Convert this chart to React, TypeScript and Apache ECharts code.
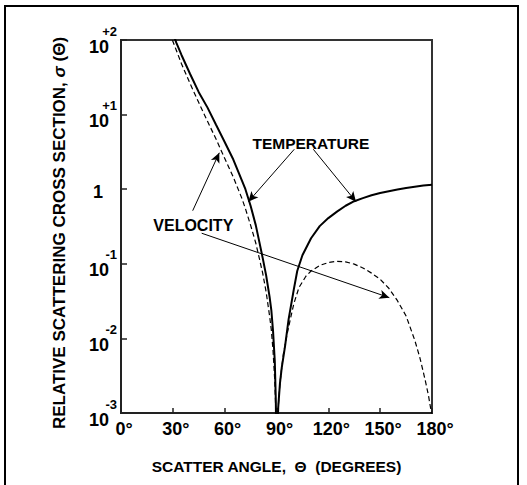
import React, { useEffect, useRef } from "react";
import * as echarts from "echarts";

// Scatter angle (degrees) and relative cross sections
const tempAngles = [30, 32, 35, 40, 45, 50, 55, 60, 65, 70, 72, 75, 78, 80, 82, 84, 86, 87, 88, 89, 89.6, 90,
  91, 92, 93, 95, 97, 100, 102, 105, 110, 115, 120, 125, 130, 135, 140, 145, 150, 155, 160, 165, 170, 175, 180];
const tempValues = [125, 92, 63, 35, 20, 12.5, 7.3, 4.3, 2.5, 1.3, 1.0, 0.6, 0.33, 0.2, 0.12, 0.07, 0.036, 0.024, 0.0125, 0.005, 0.0015, 0.0002,
  0.0012, 0.0025, 0.004, 0.008, 0.018, 0.045, 0.08, 0.13, 0.22, 0.32, 0.41, 0.5, 0.6, 0.69, 0.76, 0.83, 0.89, 0.94, 0.99, 1.04, 1.08, 1.12, 1.15];

const velAngles = [28, 30, 32, 35, 40, 45, 50, 55, 60, 65, 70, 72, 75, 78, 80, 82, 84, 86, 87, 88, 89, 89.5, 90,
  90.5, 91, 92, 93, 94, 96, 98, 100, 103, 107, 110, 115, 120, 125, 130, 135, 140, 145, 150, 155, 160, 165, 170, 173, 176, 178, 180];
const velValues = [125, 96, 73, 48, 26, 14.5, 8.2, 4.7, 2.6, 1.45, 0.75, 0.55, 0.33, 0.19, 0.12, 0.075, 0.042, 0.02, 0.013, 0.0068, 0.0027, 0.0012, 0.0002,
  0.0004, 0.0012, 0.0025, 0.004, 0.0062, 0.011, 0.018, 0.029, 0.048, 0.068, 0.08, 0.095, 0.104, 0.108, 0.106, 0.099, 0.088, 0.075, 0.062, 0.047, 0.032, 0.02, 0.0095, 0.0055, 0.0028, 0.0017, 0.0009];

const xTickValues = [0, 30, 60, 90, 120, 150, 180];

// Annotations (data coordinates: angle, cross section)
const tempLabel = { name: "TEMPERATURE", at: [109.9, 4.07] };
const velLabel = { name: "VELOCITY", at: [41.85, 0.331] };
const tempArrows = [
  [[100.3, 3.43], [73.7, 0.68]],
  [[111.3, 3.43], [136, 0.68]],
];
const velArrows = [
  [[41.5, 0.515], [56.9, 3.08]],
  [[46.7, 0.257], [155.3, 0.0352]],
];

const font = "'Liberation Sans', Arial, sans-serif";

export default function App() {
  const ref = useRef<HTMLDivElement>(null);
  useEffect(() => {
    const chart = echarts.init(ref.current!, null, { renderer: "svg" });
    const tempData = tempAngles.map((a, i) => [a, tempValues[i]]);
    const velData = velAngles.map((a, i) => [a, velValues[i]]);
    const arrowStyle = {
      silent: true,
      symbol: ["none", "arrow"],
      symbolSize: [7, 10],
      lineStyle: { color: "#000", width: 1, type: "solid" },
      label: { show: false },
      emphasis: { disabled: true },
    };
    const labelPoint = (l: { name: string; at: number[] }, size: number) => ({
      silent: true,
      symbol: "rect",
      symbolSize: 1,
      itemStyle: { color: "rgba(0,0,0,0)" },
      label: {
        show: true,
        position: "inside",
        formatter: "{b}",
        fontFamily: font,
        fontWeight: "bold",
        fontSize: size,
        color: "#000",
      },
      data: [{ name: l.name, coord: l.at }],
    });
    chart.setOption({
      animation: false,
      backgroundColor: "#fff",
      grid: {
        left: 121,
        top: 40,
        right: 95,
        bottom: 72,
        show: true,
        borderColor: "#333",
        borderWidth: 2,
        backgroundColor: "rgba(0,0,0,0)",
      },
      xAxis: {
        type: "value",
        min: 0,
        max: 180,
        interval: 30,
        axisLine: { show: true, lineStyle: { color: "#222", width: 2 } },
        axisTick: { show: true, inside: true, length: 5, lineStyle: { color: "#222", width: 1.5 } },
        splitLine: { show: false },
        axisLabel: {
          formatter: (v: number) => (xTickValues.includes(v) ? v + "°" : ""),
          fontFamily: font,
          fontWeight: "bold",
          fontSize: 18,
          color: "#000",
          margin: 7,
          padding: [0, 0, 0, 6],
        },
        name: "SCATTER ANGLE,  Θ  (DEGREES)",
        nameLocation: "middle",
        nameGap: 45,
        nameTextStyle: { fontFamily: font, fontWeight: "bold", fontSize: 15.5, color: "#000" },
      },
      yAxis: {
        type: "log",
        logBase: 10,
        min: 0.001,
        max: 100,
        axisLine: { show: true, lineStyle: { color: "#222", width: 2 } },
        axisTick: { show: true, inside: true, length: 6, lineStyle: { color: "#222", width: 1.5 } },
        splitLine: { show: false },
        minorTick: { show: false },
        axisLabel: {
          showMinLabel: true,
          showMaxLabel: true,
          margin: 4,
          color: "#000",
          formatter: (v: number) => {
            const e = Math.round(Math.log10(v));
            if (e === 0) return "{one|1}";
            const sup = e > 0 ? "+" + e : String(e);
            return "{sup|" + sup + "}\n{base|10}";
          },
          rich: {
            sup: { fontFamily: font, fontWeight: "bold", fontSize: 13, lineHeight: 13, color: "#000" },
            base: { fontFamily: font, fontWeight: "bold", fontSize: 18, lineHeight: 18, color: "#000", padding: [0, 8, 0, 0] },
            one: { fontFamily: font, fontWeight: "bold", fontSize: 18, lineHeight: 18, color: "#000", padding: [6, 14, 0, 0] },
          },
        },
      },
      series: [
        {
          type: "line",
          name: "Temperature",
          data: tempData,
          showSymbol: false,
          clip: true,
          lineStyle: { color: "#000", width: 2 },
          markLine: { ...arrowStyle, data: tempArrows.map(([a, b]) => [{ coord: a }, { coord: b }]) },
          markPoint: labelPoint(tempLabel, 15.5),
        },
        {
          type: "line",
          name: "Velocity",
          data: velData,
          showSymbol: false,
          clip: true,
          lineStyle: { color: "#000", width: 1.2, type: [5, 3] },
          markLine: { ...arrowStyle, data: velArrows.map(([a, b]) => [{ coord: a }, { coord: b }]) },
          markPoint: labelPoint(velLabel, 16),
        },
      ],
      graphic: [
        {
          type: "rect",
          silent: true,
          shape: { x: 5, y: 6, width: 513, height: 500 },
          style: { fill: "none", stroke: "#000", lineWidth: 2 },
        },
        {
          type: "text",
          silent: true,
          x: 59,
          y: 233,
          rotation: Math.PI / 2,
          style: {
            text: "{n|RELATIVE SCATTERING CROSS SECTION, }{i|σ}{n| (Θ)}",
            fontFamily: font,
            fontWeight: "bold",
            fontSize: 17,
            fill: "#000",
            align: "center",
            verticalAlign: "middle",
            textAlign: "center",
            textVerticalAlign: "middle",
            rich: {
              n: { fontFamily: font, fontWeight: "bold", fontSize: 17, fill: "#000" },
              i: { fontFamily: font, fontWeight: "bold", fontStyle: "italic", fontSize: 17, fill: "#000" },
            },
          },
        },
      ],
    });
    return () => chart.dispose();
  }, []);
  return (
    <div
      ref={ref}
      style={{ position: "fixed", left: 0, top: 0, width: 527, height: 485, background: "#fff" }}
    />
  );
}
